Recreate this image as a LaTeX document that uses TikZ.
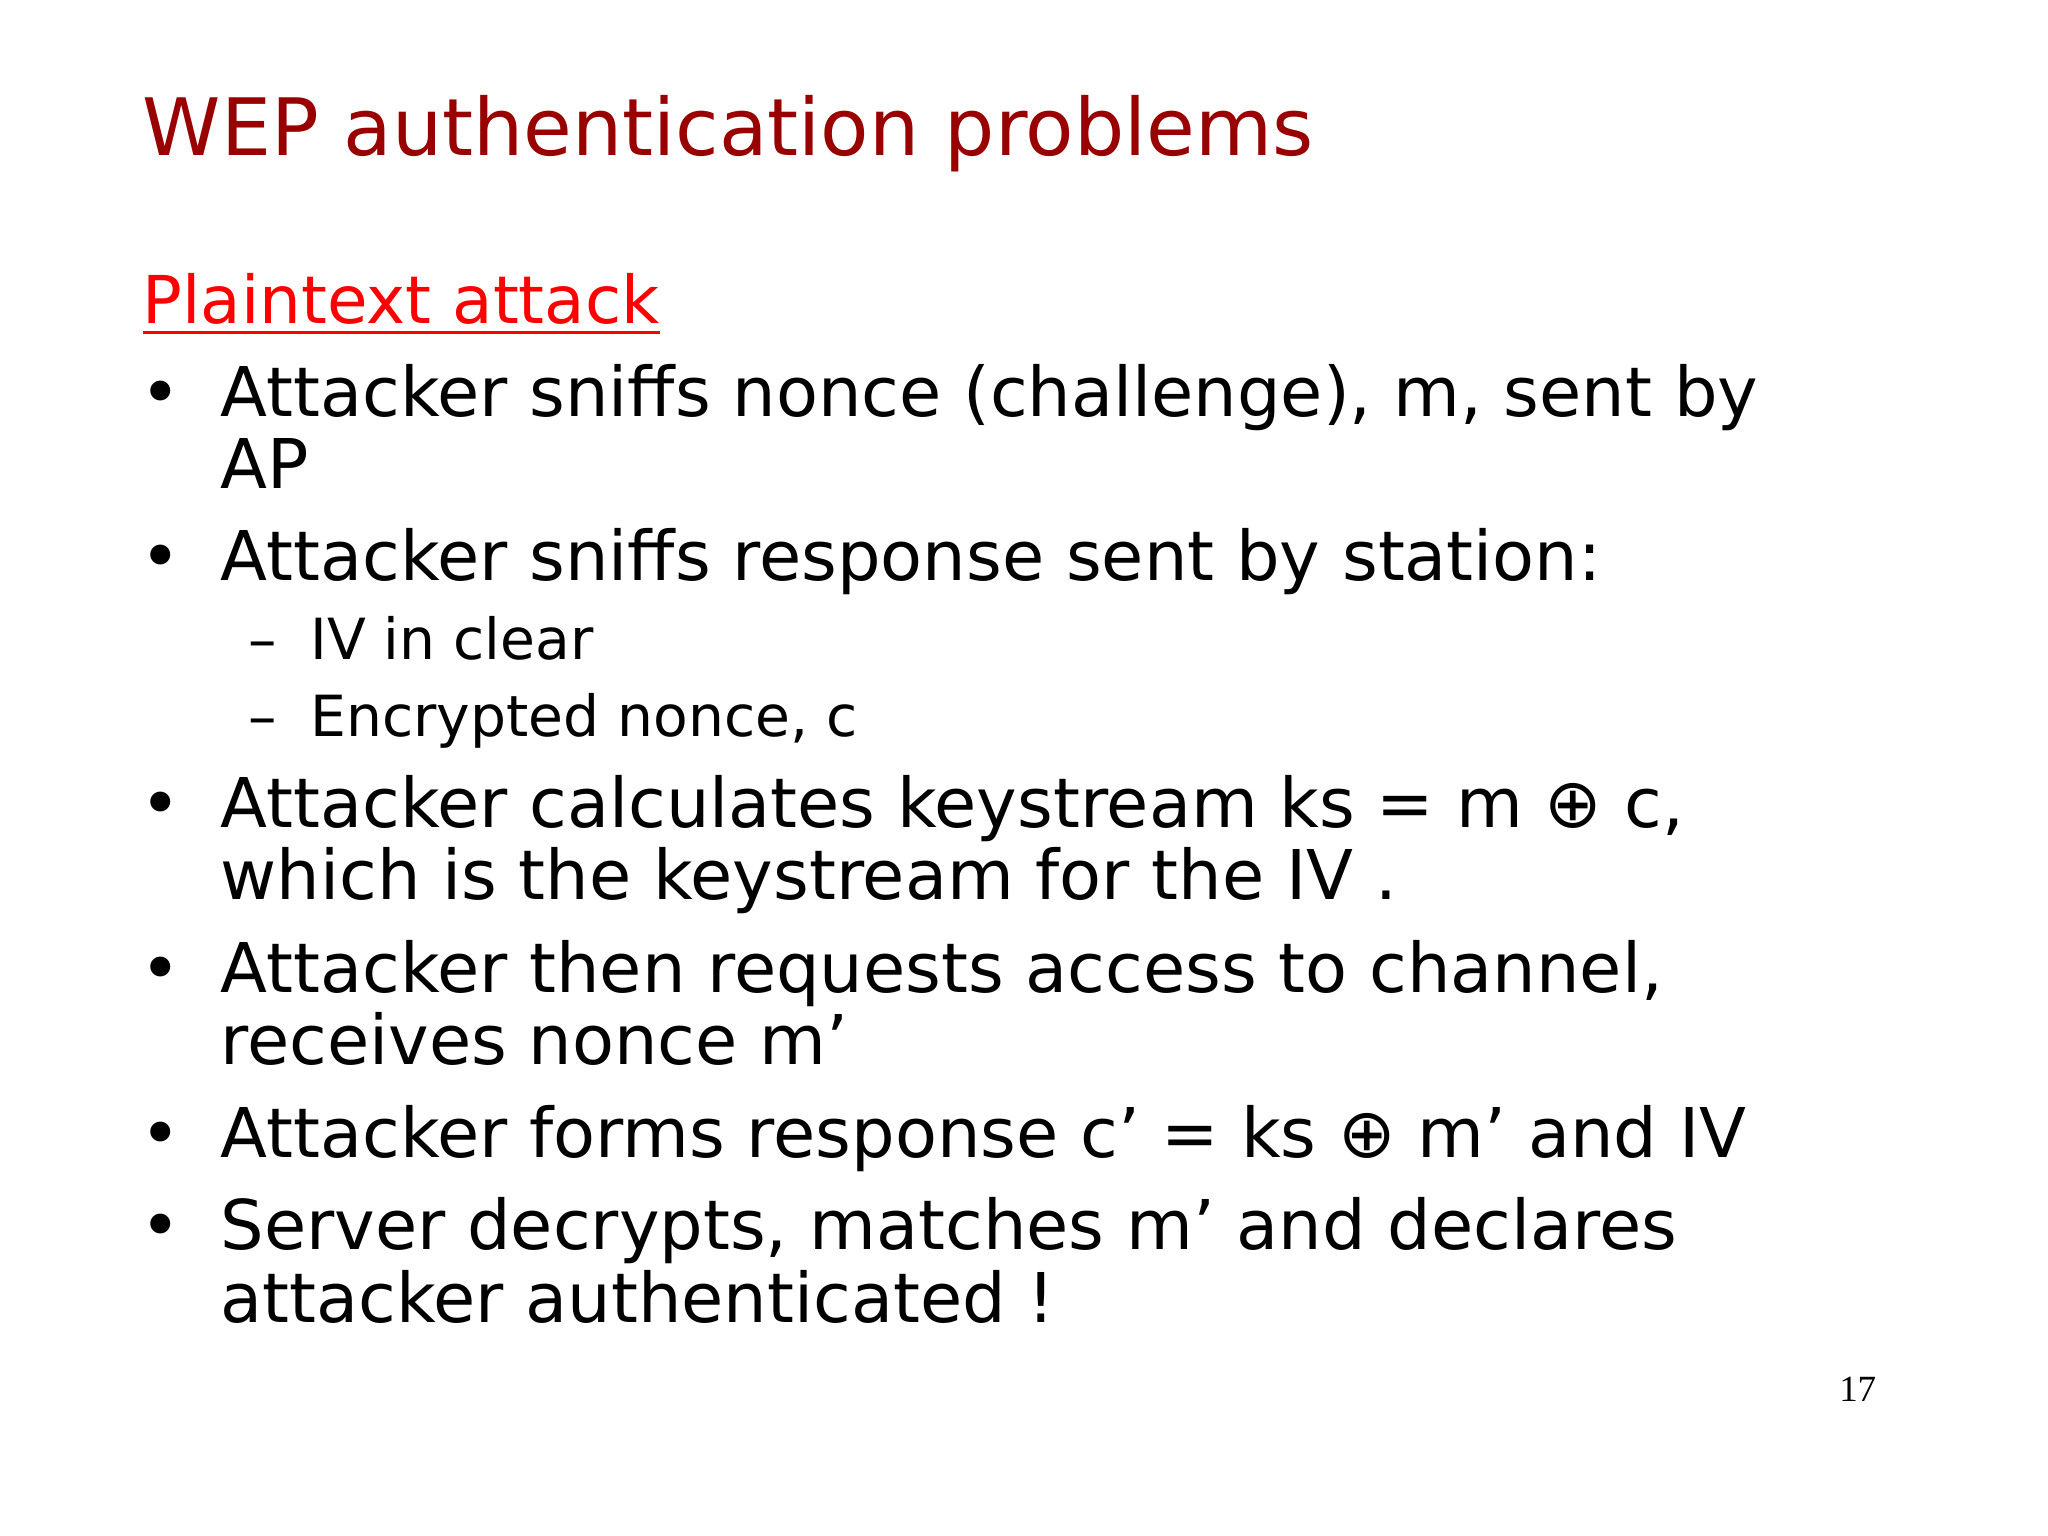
\documentclass[tikz,border=0pt]{standalone}
\usepackage{fontspec}
\setmainfont{DejaVu Sans}
\newfontfamily\serifn{Liberation Serif}
\definecolor{titlered}{HTML}{990000}
\definecolor{subred}{HTML}{FF0000}
\begin{document}
\begin{tikzpicture}[x=1pt,y=-1pt,
  txt/.style={anchor=base west,inner sep=0pt,font=\fontsize{52}{62}\selectfont},
  subtxt/.style={anchor=base west,inner sep=0pt,font=\fontsize{43}{50}\selectfont},
  bul/.style={anchor=base west,inner sep=0pt,font=\fontsize{52}{62}\selectfont}]
\useasboundingbox (0,0) rectangle (1552,1164);
\fill[white] (0,0) rectangle (1552,1164);
\node[anchor=base west,inner sep=0pt,text=titlered,font=\fontsize{60}{70}\selectfont] (title) at (108,118) {WEP authentication problems};
\node[anchor=base west,inner sep=0pt,text=subred,font=\fontsize{50}{60}\selectfont] (pt) at (108,245) {Plaintext attack};
\draw[subred,line width=2pt] (pt.south west)++(0,6) -- ([yshift=-6pt]pt.south east);
\foreach \y in {316,440,627,752,877,947}{\node[bul] at (106,\y) {•};}
\node[txt] (l1) at (167,316) {Attacker sniffs nonce (challenge), m, sent by};
\node[txt] (l1b) at (167,370) {AP};
\node[txt] (l2) at (167,440) {Attacker sniffs response sent by station:};
\node[subtxt] at (188,500) {–};
\node[subtxt] (s1) at (235,500) {IV in clear};
\node[subtxt] at (188,558) {–};
\node[subtxt] (s2) at (235,558) {Encrypted nonce, c};
\node[txt] (l3) at (167,627) {Attacker calculates keystream ks = m ⊕ c,};
\node[txt] (l3b) at (167,682) {which is the keystream for the IV .};
\node[txt] (l4) at (167,752) {Attacker then requests access to channel,};
\node[txt] (l4b) at (167,807) {receives nonce m’};
\node[txt] (l5) at (167,877) {Attacker forms response c’ = ks ⊕ m’ and IV};
\node[txt] (l6) at (167,947) {Server decrypts, matches m’ and declares};
\node[txt] (l6b) at (167,1002) {attacker authenticated !};
\node[anchor=base east,inner sep=0pt,font=\serifn\fontsize{28}{32}\selectfont] (num) at (1422,1062) {17};
\end{tikzpicture}
\end{document}
